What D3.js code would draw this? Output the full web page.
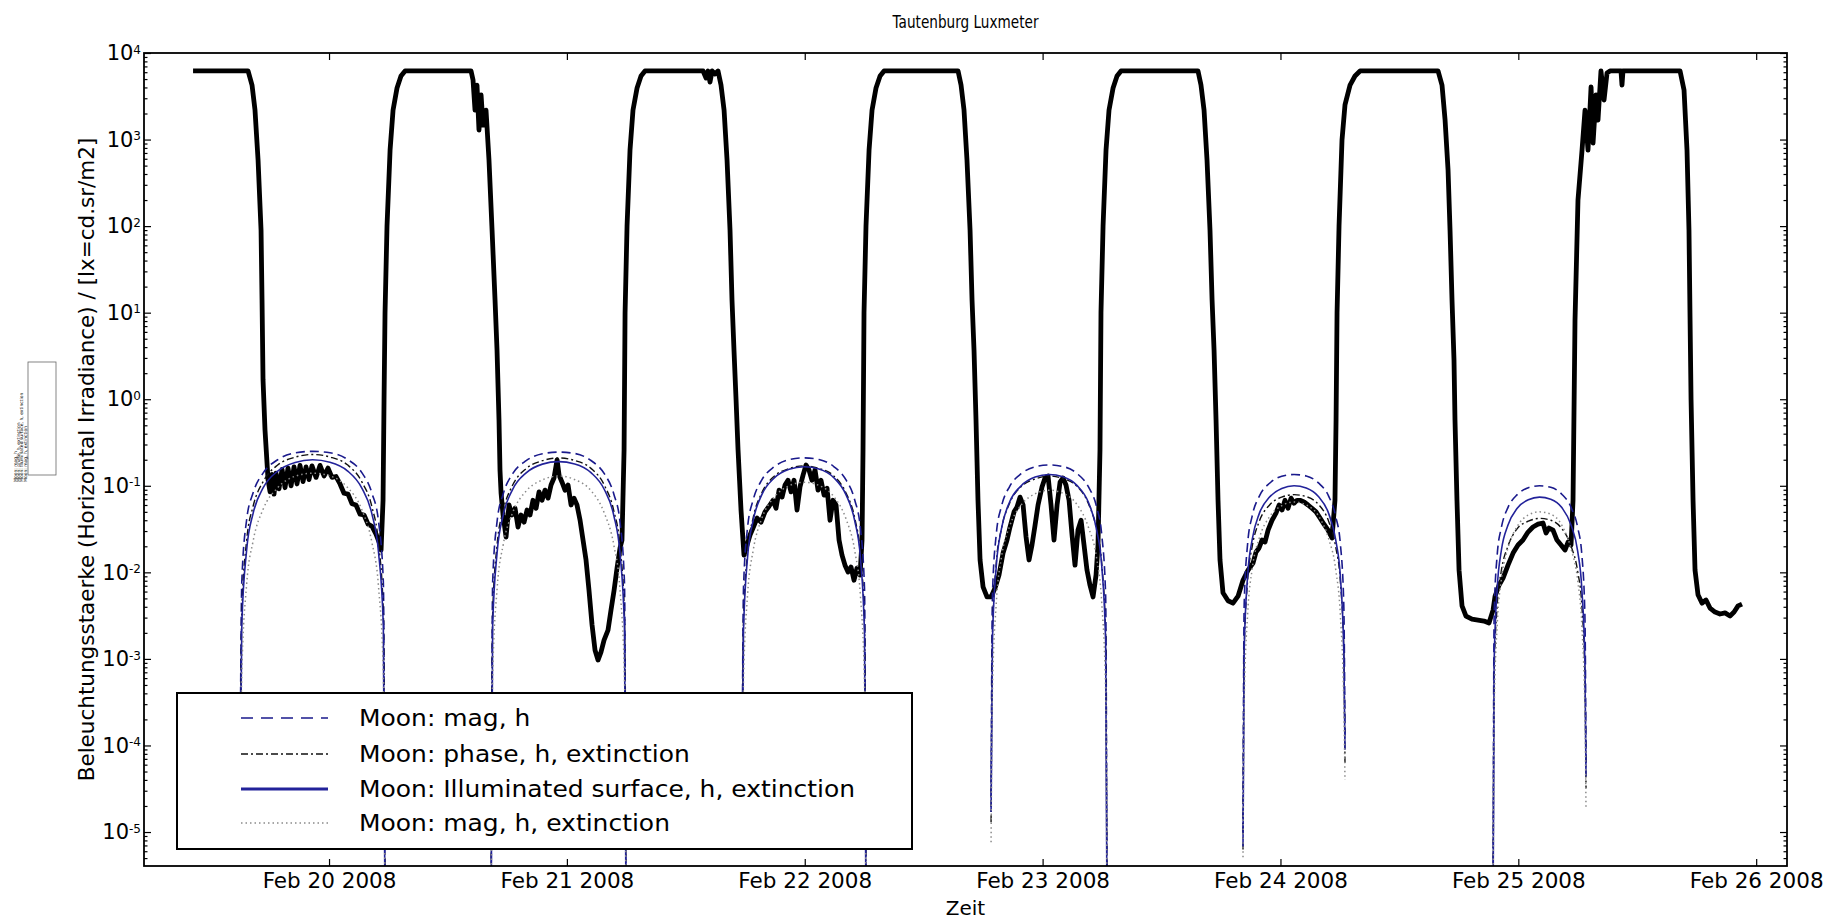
<!DOCTYPE html>
<html>
<head>
<meta charset="utf-8">
<script src="https://cdn.jsdelivr.net/npm/d3@7"></script>
<style>
body { margin: 0; background: #fff; }
text { font-family: "DejaVu Sans", sans-serif; fill: #000; }
</style>
</head>
<body>
<div id="chart"></div>
<script>
// ---- data (hours counted from Feb 19 2008 00:00) ----
var titleText = "Tautenburg Luxmeter";
var xLabelText = "Zeit";
var yLabelText = "Beleuchtungsstaerke (Horizontal Irradiance) / [lx=cd.sr/m2]";
var dayTicks = ["2008-02-20", "2008-02-21", "2008-02-22", "2008-02-23", "2008-02-24", "2008-02-25", "2008-02-26"];
var decadeTicks = [-5, -4, -3, -2, -1, 0, 1, 2, 3, 4];
var hourRange = [5.33, 171.11];
var luxRange = [4.05e-6, 1e4];

var luxHours = [10.28, 15.83, 16.23, 16.53, 16.84, 17.14, 17.24, 17.34, 17.54, 17.85,
  18.05, 18.25, 18.45, 18.65, 18.95, 19.26, 19.56, 19.86, 20.17, 20.47, 20.77, 21.07, 21.38, 21.68, 21.98, 22.28,
  22.69, 23.09, 23.50, 23.90, 24.30, 24.71, 25.11, 25.51, 25.92, 26.32, 26.72, 27.13, 27.53, 27.94, 28.34, 28.74,
  29.05, 29.25, 29.45, 29.55, 29.65, 29.85, 30.16, 30.46, 30.86, 31.26, 31.67,
  38.33, 38.53, 38.73, 38.93, 39.13, 39.34, 39.54, 39.84, 40.14, 40.45, 40.75, 40.95, 41.15, 41.25, 41.36, 41.56,
  41.86, 42.16, 42.46, 42.77, 43.07, 43.37, 43.68, 43.98, 44.28, 44.58, 44.89, 45.19, 45.49, 45.79, 46.10, 46.40,
  46.70, 47.01, 47.21, 47.51, 47.81, 48.12, 48.42, 48.72, 49.02, 49.33, 49.63, 49.93, 50.23, 50.54, 50.84, 51.14,
  51.44, 51.75, 52.15, 52.45, 52.76, 53.06, 53.36, 53.56, 53.77, 53.87, 54.07, 54.37, 54.67, 55.08, 55.48, 55.88,
  61.74, 62.04, 62.24, 62.44, 62.65, 62.95, 63.25, 63.55, 63.86, 64.16, 64.46, 64.66, 64.86, 65.07, 65.27, 65.57,
  65.87, 66.18, 66.48, 66.78, 67.19, 67.59, 67.99, 68.40, 68.80, 69.10, 69.41, 69.71, 70.01, 70.31, 70.62, 70.92,
  71.22, 71.52, 71.83, 72.13, 72.43, 72.73, 73.04, 73.34, 73.64, 73.95, 74.25, 74.55, 74.85, 75.16, 75.46, 75.76,
  76.06, 76.37, 76.67, 76.97, 77.27, 77.58, 77.78, 77.88, 77.98, 78.18, 78.49, 78.79, 79.19, 79.60, 80.00,
  87.47, 87.77, 88.07, 88.37, 88.68, 88.88, 89.08, 89.28, 89.48, 89.69, 89.99, 90.39, 90.80, 91.20, 91.60, 92.01,
  92.41, 92.71, 93.12, 93.42, 93.72, 94.03, 94.33, 94.63, 94.93, 95.24, 95.54, 95.94, 96.24, 96.55, 96.85, 97.15,
  97.46, 97.76, 98.06, 98.36, 98.67, 98.97, 99.27, 99.57, 99.88, 100.18, 100.48, 100.78, 101.09, 101.39, 101.59,
  101.79, 101.89, 102.10, 102.40, 102.70, 103.11, 103.51, 103.91,
  111.68, 111.98, 112.29, 112.59, 112.89, 113.10, 113.30, 113.50, 113.70, 113.90, 114.20, 114.71, 115.21, 115.72,
  116.22, 116.73, 117.23, 117.54, 117.84, 118.14, 118.44, 118.75, 119.15, 119.55, 119.86, 120.16, 120.46, 120.76,
  121.07, 121.37, 121.67, 121.97, 122.38, 122.78, 123.18, 123.59, 123.99, 124.39, 124.80, 125.20, 125.50, 125.61,
  125.71, 125.91, 126.21, 126.51, 127.02, 127.52, 128.03,
  135.90, 136.30, 136.61, 136.91, 137.11, 137.31, 137.51, 137.61, 137.81, 138.02, 138.32, 138.72, 139.33, 139.93,
  140.54, 141.04, 141.45, 141.65, 142.05, 142.46, 142.96, 143.47, 143.97, 144.47, 144.98, 145.48, 145.99, 146.49,
  146.80, 147.10, 147.50, 147.90, 148.31, 148.71, 149.02, 149.32, 149.52, 149.72, 150.02, 150.43, 150.73, 151.03,
  151.34, 151.54, 151.84, 152.04, 152.34, 152.65, 152.95, 153.25, 154.36, 154.46, 154.56,
  160.32, 160.72, 161.02, 161.22, 161.32, 161.43, 161.63, 161.83, 162.13, 162.54, 162.94, 163.34, 163.85, 164.35,
  164.86, 165.36, 165.77, 166.17, 166.57];

var luxValues = [6200, 6200, 4260, 2190, 580, 90, 14, 1.67, 0.44, 0.116,
  0.085, 0.135, 0.080, 0.140, 0.092, 0.155, 0.095, 0.160, 0.100, 0.165, 0.105, 0.172, 0.112, 0.165, 0.118, 0.170,
  0.125, 0.172, 0.130, 0.160, 0.125, 0.128, 0.105, 0.082, 0.080, 0.062, 0.060, 0.047, 0.046, 0.036, 0.034, 0.0277,
  0.0224, 0.0181, 0.068, 0.98, 10, 100, 757, 2190, 3940, 5420, 6200,
  6200, 4880, 2190, 4260, 1290, 3270, 1470, 2190, 580, 90, 14, 3.7, 0.575, 0.152, 0.082, 0.046,
  0.0256, 0.060, 0.046, 0.055, 0.0334, 0.046, 0.038, 0.0525, 0.046, 0.068, 0.055, 0.085, 0.068, 0.089, 0.072, 0.102,
  0.123, 0.199, 0.133, 0.110, 0.089, 0.102, 0.060, 0.072, 0.060, 0.040, 0.0236, 0.0139, 0.0062, 0.00246, 0.00126, 0.00097,
  0.0012, 0.00165, 0.00215, 0.00366, 0.0062, 0.0112, 0.0191, 0.0236, 0.26, 10, 100, 757, 2190, 3940, 5420, 6200,
  6200, 5140, 6200, 4620, 6200, 5720, 6200, 4260, 2190, 580, 90, 14, 3.7, 0.98, 0.26, 0.0525,
  0.0158, 0.0207, 0.027, 0.0325, 0.0424, 0.038, 0.050, 0.058, 0.068, 0.055, 0.089, 0.074, 0.102, 0.116, 0.085, 0.116,
  0.0525, 0.097, 0.133, 0.174, 0.152, 0.116, 0.152, 0.089, 0.116, 0.078, 0.094, 0.040, 0.068, 0.060, 0.0236, 0.0158,
  0.0121, 0.0101, 0.0115, 0.0081, 0.0112, 0.0093, 0.0236, 0.26, 10, 100, 757, 2190, 3940, 5420, 6200,
  6200, 4260, 2190, 580, 90, 14, 3.7, 0.575, 0.068, 0.0139, 0.0068, 0.0052, 0.0052, 0.0066, 0.0093, 0.0167,
  0.0236, 0.0334, 0.050, 0.0568, 0.074, 0.060, 0.0256, 0.0139, 0.0207, 0.0352, 0.060, 0.097, 0.123, 0.130, 0.060, 0.0236,
  0.060, 0.110, 0.123, 0.102, 0.068, 0.027, 0.0121, 0.0308, 0.040, 0.0207, 0.0106, 0.0071, 0.0052, 0.0093, 0.0207,
  0.26, 10, 100, 757, 2190, 3940, 5420, 6200,
  6200, 4260, 2190, 580, 90, 14, 3.7, 0.575, 0.068, 0.0139, 0.0058, 0.0047, 0.0044, 0.0053,
  0.0081, 0.0106, 0.0128, 0.0172, 0.0191, 0.0236, 0.0224, 0.0308, 0.040, 0.0484, 0.060, 0.0525, 0.068, 0.055,
  0.072, 0.063, 0.068, 0.068, 0.065, 0.060, 0.055, 0.050, 0.0424, 0.036, 0.0308, 0.0249, 0.068, 0.575,
  10, 100, 990, 2510, 4260, 5420, 6200,
  6200, 4260, 1680, 445, 90, 14, 2.84, 0.575, 0.068, 0.0106, 0.0041, 0.00313, 0.00288, 0.00281,
  0.00274, 0.0026, 0.00366, 0.0053, 0.0071, 0.0086, 0.0121, 0.0167, 0.0207, 0.0236, 0.0292, 0.0334, 0.036, 0.0372,
  0.0285, 0.0325, 0.0308, 0.0236, 0.0207, 0.0181, 0.0224, 0.0207, 0.068, 8.2, 200, 757, 2190, 757,
  4050, 912, 3270, 1680, 6200, 2860, 5870, 6200, 6200, 4260, 6200,
  6200, 3740, 757, 90, 10, 0.98, 0.068, 0.0106, 0.0055, 0.0044, 0.0048, 0.00387, 0.00348, 0.0033,
  0.0034, 0.00313, 0.00348, 0.0041, 0.0043];

// moon model curves, one row per night
var nightHours = [
  [15.02, 15.20, 15.68, 16.34, 17.36, 18.82, 20.58, 22.34, 24.09, 25.85, 27.31, 28.33, 28.99, 29.48, 29.65],
  [40.35, 40.51, 40.96, 41.58, 42.53, 43.89, 45.53, 47.16, 48.79, 50.43, 51.79, 52.74, 53.36, 53.81, 53.97],
  [65.67, 65.82, 66.23, 66.80, 67.67, 68.92, 70.42, 71.93, 73.43, 74.93, 76.18, 77.05, 77.62, 78.03, 78.18],
  [90.80, 90.94, 91.33, 91.85, 92.67, 93.84, 95.25, 96.65, 98.05, 99.46, 100.63, 101.45, 101.97, 102.36, 102.50],
  [116.22, 116.34, 116.68, 117.15, 117.87, 118.90, 120.13, 121.37, 122.60, 123.83, 124.86, 125.58, 126.05, 126.39, 126.51],
  [141.45, 141.56, 141.87, 142.29, 142.95, 143.89, 145.01, 146.14, 147.27, 148.39, 149.33, 149.99, 150.41, 150.72, 150.83]
];
var moonMagH = [
  [4e-5, 0.0079, 0.040, 0.083, 0.141, 0.200, 0.240, 0.250, 0.241, 0.202, 0.142, 0.082, 0.039, 0.0077, 1e-6],
  [1e-6, 0.0078, 0.039, 0.081, 0.138, 0.195, 0.234, 0.245, 0.236, 0.196, 0.137, 0.080, 0.038, 0.0076, 1e-6],
  [3e-5, 0.0066, 0.033, 0.069, 0.117, 0.166, 0.200, 0.210, 0.201, 0.167, 0.116, 0.068, 0.032, 0.0064, 1e-6],
  [2.5e-5, 0.0055, 0.028, 0.058, 0.098, 0.138, 0.166, 0.174, 0.167, 0.139, 0.097, 0.057, 0.027, 0.0054, 1e-6],
  [1e-5, 0.0043, 0.021, 0.045, 0.076, 0.107, 0.129, 0.135, 0.130, 0.108, 0.076, 0.044, 0.021, 0.0042, 1.3e-4],
  [1e-6, 0.0032, 0.016, 0.033, 0.056, 0.079, 0.095, 0.100, 0.096, 0.080, 0.056, 0.033, 0.016, 0.0031, 6.3e-5]
];
var moonPhaseExt = [
  [3e-5, 0.0036, 0.023, 0.058, 0.112, 0.174, 0.214, 0.230, 0.215, 0.175, 0.111, 0.057, 0.022, 0.0035, 1e-6],
  [1e-6, 0.0033, 0.021, 0.052, 0.102, 0.158, 0.195, 0.210, 0.196, 0.159, 0.101, 0.051, 0.020, 0.0032, 1e-6],
  [2e-5, 0.0027, 0.017, 0.043, 0.083, 0.129, 0.158, 0.170, 0.159, 0.130, 0.082, 0.042, 0.016, 0.0026, 1e-6],
  [1.3e-5, 0.0020, 0.013, 0.032, 0.063, 0.098, 0.120, 0.130, 0.121, 0.099, 0.062, 0.031, 0.0125, 0.0019, 1e-6],
  [6.3e-6, 0.0013, 0.0079, 0.020, 0.039, 0.060, 0.074, 0.079, 0.075, 0.061, 0.039, 0.0195, 0.0077, 0.00125, 6.3e-5],
  [1e-6, 0.00066, 0.0042, 0.0105, 0.020, 0.032, 0.039, 0.042, 0.040, 0.032, 0.020, 0.0102, 0.0041, 0.00064, 3.2e-5]
];
var moonSurfaceExt = [
  [2e-5, 0.0025, 0.0178, 0.048, 0.095, 0.148, 0.186, 0.200, 0.187, 0.149, 0.094, 0.047, 0.0172, 0.0024, 1e-6],
  [1e-6, 0.0024, 0.0170, 0.046, 0.091, 0.141, 0.178, 0.190, 0.179, 0.142, 0.090, 0.045, 0.0165, 0.0023, 1e-6],
  [1.5e-5, 0.0021, 0.0150, 0.040, 0.079, 0.123, 0.155, 0.166, 0.156, 0.124, 0.078, 0.039, 0.0146, 0.0020, 1e-6],
  [1.7e-5, 0.0017, 0.0120, 0.032, 0.065, 0.100, 0.126, 0.135, 0.127, 0.101, 0.064, 0.031, 0.0117, 0.0016, 1e-6],
  [6.8e-6, 0.00126, 0.0089, 0.024, 0.048, 0.074, 0.093, 0.100, 0.094, 0.075, 0.048, 0.0235, 0.0087, 0.00122, 8.9e-5],
  [1e-6, 0.00093, 0.0066, 0.018, 0.035, 0.055, 0.069, 0.074, 0.070, 0.056, 0.035, 0.0176, 0.0064, 0.0009, 4.4e-5]
];
var moonMagExt = [
  [8e-6, 0.00071, 0.0071, 0.023, 0.054, 0.095, 0.129, 0.140, 0.130, 0.096, 0.053, 0.022, 0.0069, 0.00068, 1e-6],
  [1e-6, 0.00065, 0.0065, 0.021, 0.049, 0.087, 0.117, 0.130, 0.118, 0.088, 0.048, 0.0205, 0.0063, 0.00062, 1e-6],
  [8e-6, 0.00055, 0.0055, 0.018, 0.042, 0.074, 0.100, 0.110, 0.101, 0.075, 0.041, 0.0176, 0.0053, 0.00053, 1e-6],
  [7.6e-6, 0.00045, 0.0045, 0.015, 0.034, 0.060, 0.081, 0.089, 0.082, 0.061, 0.033, 0.0146, 0.0044, 0.00043, 1e-6],
  [5.1e-6, 0.00032, 0.0032, 0.011, 0.025, 0.044, 0.059, 0.065, 0.060, 0.045, 0.0245, 0.0107, 0.0031, 0.00031, 4e-5],
  [1e-6, 0.00025, 0.0025, 0.0083, 0.019, 0.034, 0.046, 0.050, 0.047, 0.035, 0.0185, 0.0081, 0.0024, 0.00024, 1.8e-5]
];
var legendLabels = ["Moon: mag, h", "Moon: phase, h, extinction", "Moon: Illuminated surface, h, extinction", "Moon: mag, h, extinction"];

// ---- layout ----
var width = 1836, height = 919;
var plotLeft = 144, plotRight = 1787, plotTop = 53, plotBottom = 866;

var baseDate = new Date(2008, 1, 19);
function hourToDate(h) { return new Date(baseDate.getTime() + h * 3600000); }
var parseDay = d3.timeParse("%Y-%m-%d");
var tickDates = dayTicks.map(parseDay);

var x = d3.scaleTime()
  .domain([hourToDate(hourRange[0]), hourToDate(hourRange[1])])
  .range([plotLeft, plotRight]);
var y = d3.scaleLog()
  .domain(luxRange)
  .range([plotBottom, plotTop]);

var svg = d3.select("#chart")
  .append("svg")
  .attr("width", width)
  .attr("height", height);

svg.append("defs").append("clipPath")
  .attr("id", "plotclip")
  .append("rect")
  .attr("x", plotLeft).attr("y", plotTop)
  .attr("width", plotRight - plotLeft).attr("height", plotBottom - plotTop);

var plot = svg.append("g").attr("clip-path", "url(#plotclip)");

// measured luxmeter curve
var luxData = luxHours.map(function(h, i) { return {t: hourToDate(h), v: luxValues[i]}; });
var luxLine = d3.line()
  .x(function(d) { return x(d.t); })
  .y(function(d) { return y(d.v); });

plot.append("path")
  .datum(luxData)
  .attr("d", luxLine)
  .attr("fill", "none")
  .attr("stroke", "#000")
  .attr("stroke-width", 4.8)
  .attr("stroke-linejoin", "round");

// moon models
var moonStyles = [
  {values: moonMagH, color: "#1a1a8c", dash: "9,5", w: 1.6},
  {values: moonPhaseExt, color: "#111", dash: "7,3,2,3", w: 1.4},
  {values: moonSurfaceExt, color: "#22229a", dash: null, w: 1.6},
  {values: moonMagExt, color: "#8a8a8a", dash: "1.5,3", w: 1.5}
];
var moonLine = d3.line()
  .x(function(d) { return x(d.t); })
  .y(function(d) { return y(d.v); })
  .curve(d3.curveMonotoneX);

moonStyles.forEach(function(s) {
  for (var n = 0; n < nightHours.length; n++) {
    var pts = nightHours[n].map(function(h, i) { return {t: hourToDate(h), v: s.values[n][i]}; });
    plot.append("path")
      .datum(pts)
      .attr("d", moonLine)
      .attr("fill", "none")
      .attr("stroke", s.color)
      .attr("stroke-width", s.w)
      .attr("stroke-dasharray", s.dash);
  }
});

// ---- axes (matplotlib style ticks pointing inward) ----
var minorTicks = [];
for (var e = -6; e < 4; e++) {
  for (var m = 2; m <= 9; m++) {
    var mv = m * Math.pow(10, e);
    if (mv > luxRange[0] && mv < luxRange[1]) minorTicks.push(mv);
  }
}
var majorTicks = decadeTicks.map(function(p) { return Math.pow(10, p); });

var xAxis = svg.append("g")
  .attr("transform", "translate(0," + plotBottom + ")")
  .call(d3.axisBottom(x).tickValues(tickDates).tickFormat(d3.timeFormat("%b %d %Y"))
    .tickSizeInner(-7).tickSizeOuter(0).tickPadding(7));
svg.append("g")
  .attr("transform", "translate(0," + plotTop + ")")
  .call(d3.axisTop(x).tickValues(tickDates).tickFormat("").tickSizeInner(-7).tickSizeOuter(0));

var yAxis = svg.append("g")
  .attr("transform", "translate(" + plotLeft + ",0)")
  .call(d3.axisLeft(y).tickValues(majorTicks).tickSizeInner(-7).tickSizeOuter(0).tickPadding(3));
svg.append("g")
  .attr("transform", "translate(" + plotLeft + ",0)")
  .call(d3.axisLeft(y).tickValues(minorTicks).tickFormat("").tickSizeInner(-3.5).tickSizeOuter(0));
svg.append("g")
  .attr("transform", "translate(" + plotRight + ",0)")
  .call(d3.axisRight(y).tickValues(majorTicks).tickFormat("").tickSizeInner(-7).tickSizeOuter(0));
svg.append("g")
  .attr("transform", "translate(" + plotRight + ",0)")
  .call(d3.axisRight(y).tickValues(minorTicks).tickFormat("").tickSizeInner(-3.5).tickSizeOuter(0));

svg.selectAll(".domain").remove();
svg.selectAll(".tick line").attr("stroke", "#000").attr("stroke-width", 1.2);

xAxis.selectAll("text")
  .attr("font-size", "21.5px")
  .attr("font-family", "DejaVu Sans");

yAxis.selectAll("text")
  .attr("font-size", "21px")
  .attr("font-family", "DejaVu Sans")
  .each(function(d) {
    var t = d3.select(this);
    var p = Math.round(Math.log10(d));
    t.text("10");
    t.append("tspan")
      .attr("dy", "-0.55em")
      .attr("font-size", "12px")
      .text(p);
  });

// frame
svg.append("rect")
  .attr("x", plotLeft).attr("y", plotTop)
  .attr("width", plotRight - plotLeft).attr("height", plotBottom - plotTop)
  .attr("fill", "none")
  .attr("stroke", "#000")
  .attr("stroke-width", 1.8);

// titles
svg.append("text")
  .attr("x", (plotLeft + plotRight) / 2).attr("y", 28)
  .attr("text-anchor", "middle")
  .attr("font-size", "17px")
  .attr("textLength", 146)
  .attr("lengthAdjust", "spacingAndGlyphs")
  .text(titleText);
svg.append("text")
  .attr("x", (plotLeft + plotRight) / 2).attr("y", 915)
  .attr("text-anchor", "middle")
  .attr("font-size", "20px")
  .text(xLabelText);
svg.append("text")
  .attr("transform", "translate(94," + ((plotTop + plotBottom) / 2) + ") rotate(-90)")
  .attr("text-anchor", "middle")
  .attr("font-size", "21.5px")
  .text(yLabelText);

// legend
var legend = svg.append("g");
legend.append("rect")
  .attr("x", 177).attr("y", 693)
  .attr("width", 735).attr("height", 156)
  .attr("fill", "#fff")
  .attr("stroke", "#000")
  .attr("stroke-width", 2);
var legendRows = [718, 754, 789, 823];
legendLabels.forEach(function(lab, i) {
  var s = moonStyles[i];
  legend.append("line")
    .attr("x1", 241).attr("x2", 328)
    .attr("y1", legendRows[i]).attr("y2", legendRows[i])
    .attr("stroke", s.color)
    .attr("stroke-width", i == 2 ? 3 : 1.6)
    .attr("stroke-dasharray", i == 0 ? "12,8" : s.dash);
  legend.append("text")
    .attr("transform", "translate(359," + legendRows[i] + ") scale(1.11,1)")
    .attr("dy", "0.35em")
    .attr("font-size", "22.5px")
    .text(lab);
});

// the small stray legend copy left of the axis label
var stray = svg.append("g");
stray.append("rect")
  .attr("x", 28).attr("y", 362)
  .attr("width", 28).attr("height", 113)
  .attr("fill", "none")
  .attr("stroke", "#666")
  .attr("stroke-width", 0.8);
legendLabels.forEach(function(lab, i) {
  stray.append("text")
    .attr("transform", "translate(" + (17 + i * 3.2) + ",482) rotate(-90)")
    .attr("font-size", "4.5px")
    .attr("fill", "#555")
    .text(lab);
});
</script>
</body>
</html>
